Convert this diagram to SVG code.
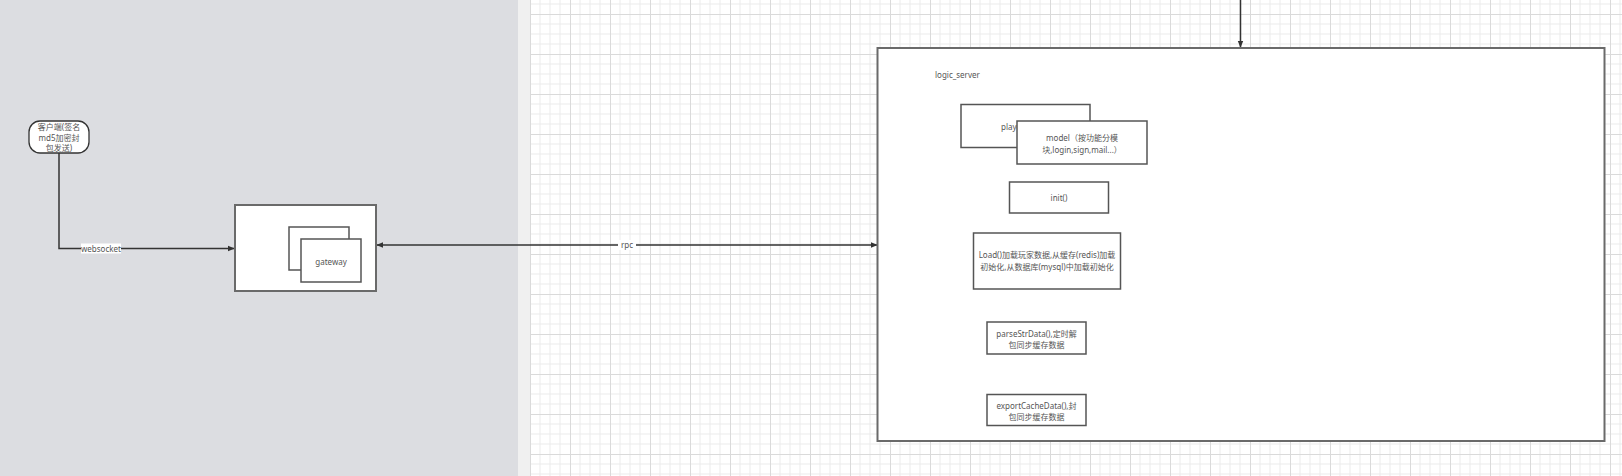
<svg xmlns="http://www.w3.org/2000/svg" width="1622" height="476" viewBox="0 0 1622 476">
<defs>
<style>
.t{font-family:"Noto Sans","Noto Sans CJK SC",sans-serif;font-size:8px;fill:#555;text-anchor:middle}
.tl{font-family:"Noto Sans","Noto Sans CJK SC",sans-serif;font-size:8px;fill:#555}
.box{fill:#fff;stroke:#555;stroke-width:1.5}
.big{fill:#fff;stroke:#6a6a6a;stroke-width:2}
.con{fill:none;stroke:#333;stroke-width:1.5}
</style>
<pattern id="grid" patternUnits="userSpaceOnUse" x="10" y="14" width="40" height="40">
<rect width="40" height="40" fill="#fff"/>
<path d="M10 0V40M20 0V40M30 0V40M0 10H40M0 20H40M0 30H40" stroke="#ebebeb" stroke-width="1"/>
<path d="M0.5 0V40M0 0.5H40" stroke="#dadada" stroke-width="1"/>
</pattern>
<marker id="arr" viewBox="0 0 10 10" refX="9" refY="5" markerWidth="7" markerHeight="7" orient="auto-start-reverse" markerUnits="userSpaceOnUse">
<path d="M0 1L10 5L0 9Z" fill="#333"/>
</marker>
</defs>
<rect x="0" y="0" width="518" height="476" fill="#dcdde1"/>
<rect x="518" y="0" width="12" height="476" fill="#f0f0f0"/>
<rect x="530" y="0" width="1092" height="476" fill="url(#grid)"/>

<g id="connectors">
<path class="con" d="M59 153V248.5H234" marker-end="url(#arr)"/>
<rect x="81" y="243.5" width="40" height="10" fill="#fff"/>
<text class="t" x="101" y="251.5">websocket</text>
<path class="con" d="M377 245H877" marker-start="url(#arr)" marker-end="url(#arr)"/>
<rect x="618" y="240" width="18" height="10" fill="#fff"/>
<text class="t" x="627" y="248">rpc</text>
<path class="con" d="M1240.5 0V47" marker-end="url(#arr)"/>
</g>

<g id="client">
<rect x="29" y="121" width="60" height="32" rx="11" ry="11" fill="#fff" stroke="#333" stroke-width="1.3"/>
<text class="t" x="59" y="130">客户端(签名</text>
<text class="t" x="59" y="140.5">md5加密封</text>
<text class="t" x="59" y="150.5">包发送)</text>
</g>

<g id="gateway-container">
<rect class="big" x="235" y="205" width="141" height="86"/>
</g>
<g id="gateway-back">
<rect class="box" x="289" y="227" width="60" height="43"/>
</g>
<g id="gateway">
<rect class="box" x="301" y="239" width="60" height="43"/>
<text class="t" x="331" y="264.5">gateway</text>
</g>

<g id="logic_server">
<rect class="big" x="877.5" y="48" width="727" height="393"/>
<text class="tl" x="935" y="78">logic_server</text>
</g>
<g id="player">
<rect class="box" x="961" y="104.5" width="129" height="43"/>
<text class="tl" x="1001" y="130">player</text>
</g>
<g id="model">
<rect class="box" x="1017" y="121" width="130" height="43"/>
<text class="t" x="1082" y="141">model（按功能分模</text>
<text class="t" x="1082" y="152.5">块,login,sign,mail...）</text>
</g>
<g id="init">
<rect class="box" x="1009.5" y="182" width="99" height="31"/>
<text class="t" x="1059" y="200.5">init()</text>
</g>
<g id="load">
<rect class="box" x="973.5" y="233" width="147" height="56"/>
<text class="t" x="1047" y="258">Load()加载玩家数据,从缓存(redis)加载</text>
<text class="t" x="1047" y="269.5">初始化,从数据库(mysql)中加载初始化</text>
</g>
<g id="parse">
<rect class="box" x="987" y="322" width="99" height="32"/>
<text class="t" x="1036.5" y="337">parseStrData(),定时解</text>
<text class="t" x="1036.5" y="347.5">包同步缓存数据</text>
</g>
<g id="export">
<rect class="box" x="987" y="394.5" width="99" height="31"/>
<text class="t" x="1036.5" y="409">exportCacheData(),封</text>
<text class="t" x="1036.5" y="419.5">包同步缓存数据</text>
</g>
</svg>
